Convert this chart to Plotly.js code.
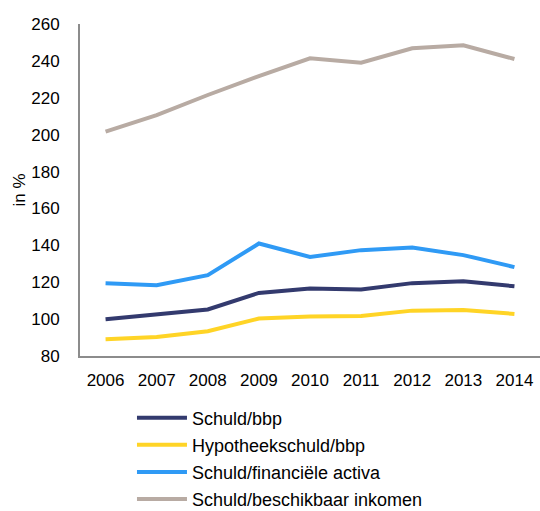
<!DOCTYPE html>
<html>
<head>
<meta charset="utf-8">
<script src="https://cdn.plot.ly/plotly-3.0.1.min.js"></script>
<style>html,body{margin:0;padding:0;background:#fff;}#chart{width:540px;height:511px;}</style>
</head>
<body>
<div id="chart"></div>
<script>
const years = ["2006","2007","2008","2009","2010","2011","2012","2013","2014"];
const schuldBbp = [99.9, 102.6, 105.2, 114.2, 116.6, 116.0, 119.5, 120.5, 117.8];
const hypotheekBbp = [89.1, 90.3, 93.4, 100.3, 101.4, 101.7, 104.6, 105.0, 102.8];
const schuldActiva = [119.5, 118.4, 123.8, 141.0, 133.7, 137.4, 138.8, 134.7, 128.2];
const schuldInkomen = [201.6, 210.6, 221.5, 231.8, 241.4, 239.0, 246.8, 248.5, 241.0];
const seriesNames = ["Schuld/bbp", "Hypotheekschuld/bbp", "Schuld/financiële activa", "Schuld/beschikbaar inkomen"];
const seriesColors = ["#333a6e", "#ffd426", "#2f9af5", "#b8aba3"];
const seriesValues = [schuldBbp, hypotheekBbp, schuldActiva, schuldInkomen];
const yTicks = [80,100,120,140,160,180,200,220,240,260];

const font = {family: "Liberation Sans, Arial, sans-serif", size: 17, color: "#000"};
const traces = seriesValues.map((v, i) => ({
  type: "scatter", mode: "lines", x: years, y: v, name: seriesNames[i],
  legendgroup: "g" + i,
  line: {color: seriesColors[i], width: 4}
}));
const layout = {
  width: 540, height: 511,
  margin: {l: 80, r: 0, t: 24, b: 155, autoexpand: false},
  paper_bgcolor: "#fff", plot_bgcolor: "#fff",
  font: font,
  showlegend: true,
  legend: {orientation: "v", x: 0.113, xanchor: "left", y: -0.131, yanchor: "top", traceorder: "grouped",
           font: {family: font.family, size: 18, color: "#000"}, itemwidth: 50, tracegroupgap: 0.7, bgcolor: "rgba(0,0,0,0)"},
  xaxis: {type: "category", range: [-0.5, 8.5], showgrid: false, zeroline: false,
          showline: true, linecolor: "#8c8c8c", linewidth: 2, ticks: "", ticklabelstandoff: 8,
          tickfont: font, tickangle: 0, fixedrange: true},
  yaxis: {range: [80, 260], tickvals: yTicks, showgrid: false, zeroline: false,
          showline: true, linecolor: "#8c8c8c", linewidth: 2, ticks: "", ticklabelstandoff: 15,
          tickfont: font, title: {text: "in %", font: font, standoff: 1}, fixedrange: true}
};
Plotly.newPlot("chart", traces, layout, {staticPlot: true, displayModeBar: false});
</script>
</body>
</html>
